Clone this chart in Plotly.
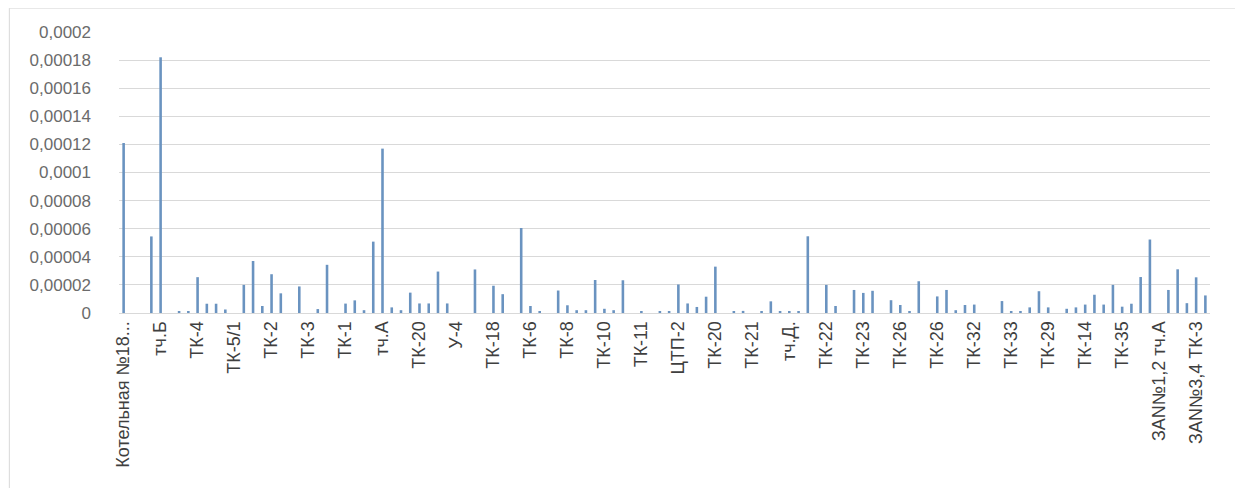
import plotly.graph_objects as go

# labels shown on the x axis (every 4th category)
tick_labels = [
    "Котельная №18...", "тч.Б", "ТК-4", "ТК-5/1", "ТК-2", "ТК-3", "ТК-1", "тч.А",
    "ТК-20", "У-4", "ТК-18", "ТК-6", "ТК-8", "ТК-10", "ТК-11", "ЦТП-2",
    "ТК-20", "ТК-21", "тч.Д.", "ТК-22", "ТК-23", "ТК-26", "ТК-26", "ТК-32",
    "ТК-33", "ТК-29", "ТК-14", "ТК-35", "ЗАN№1,2 тч.А", "ЗАN№3,4 ТК-3",
]
label_step = 4

# values per category (118 sections)
values = [
    0.000121, 0, 0, 0.0000545, 0.000182, 0, 0.0000012, 0.000001,
    0.0000255, 0.0000066, 0.0000066, 0.0000025, 0, 0.00002, 0.000037, 0.000005,
    0.0000276, 0.000014, 0, 0.0000189, 0, 0.0000028, 0.0000343, 0,
    0.0000067, 0.000009, 0.000002, 0.0000508, 0.000117, 0.000004, 0.000002, 0.0000145,
    0.0000068, 0.0000068, 0.0000295, 0.0000068, 0, 0, 0.000031, 0,
    0.0000194, 0.0000134, 0, 0.0000605, 0.000005, 0.000001, 0, 0.000016,
    0.0000055, 0.000002, 0.000002, 0.0000235, 0.000003, 0.000002, 0.0000233, 0,
    0.000001, 0, 0.000001, 0.000001, 0.0000203, 0.0000068, 0.0000043, 0.0000116,
    0.000033, 0, 0.000001, 0.0000015, 0, 0.000001, 0.0000083, 0.000001,
    0.000001, 0.000001, 0.0000546, 0, 0.00002, 0.000005, 0, 0.0000164,
    0.0000143, 0.0000158, 0, 0.0000091, 0.0000057, 0.000001, 0.0000226, 0,
    0.0000118, 0.0000164, 0.000002, 0.0000057, 0.000006, 0, 0, 0.0000085,
    0.000001, 0.000001, 0.000004, 0.0000155, 0.000004, 0, 0.000003, 0.000004,
    0.000006, 0.000013, 0.000006, 0.00002, 0.0000045, 0.0000066, 0.0000256, 0.0000523,
    0, 0.0000164, 0.0000311, 0.000007, 0.0000254, 0.0000125,
]

x = list(range(len(values)))

fig = go.Figure()
fig.add_trace(go.Bar(
    x=x, y=values,
    marker=dict(color="#6A93C0", line=dict(width=0)),
    width=0.28,
))

fig.update_layout(
    width=1243, height=488,
    margin=dict(l=111, r=41, t=24, b=183),
    paper_bgcolor="white", plot_bgcolor="white",
    showlegend=False,
    separators=", ",
    font=dict(family="Liberation Sans, Arial, sans-serif", size=16, color="#6B6B6B"),
    # thin frame round the chart area, as in the original
    shapes=[dict(
        type="rect", xref="paper", yref="paper",
        x0=-0.1005, x1=1.0255, y0=-0.7, y1=1.085,
        line=dict(color="#D9D9D9", width=1), fillcolor="rgba(0,0,0,0)", layer="below",
    )],
)

fig.update_xaxes(
    range=[-0.5, len(values) - 0.5],
    tickmode="array",
    tickvals=x[::label_step],
    ticktext=tick_labels,
    tickangle=-90,
    tickfont=dict(size=18, color="#3F3F3F"),
    showgrid=False,
    showline=True, linecolor="#D9D9D9", linewidth=1,
    ticks="",
)

fig.update_yaxes(
    range=[0, 0.0002],
    dtick=0.00002,
    tickformat=".5~f",
    tickfont=dict(size=17),
    ticklabelstandoff=27,
    showgrid=True, gridcolor="#D9D9D9", gridwidth=1,
    zeroline=False,
    showline=False,
    ticks="",
)

fig.write_html("out.html")
